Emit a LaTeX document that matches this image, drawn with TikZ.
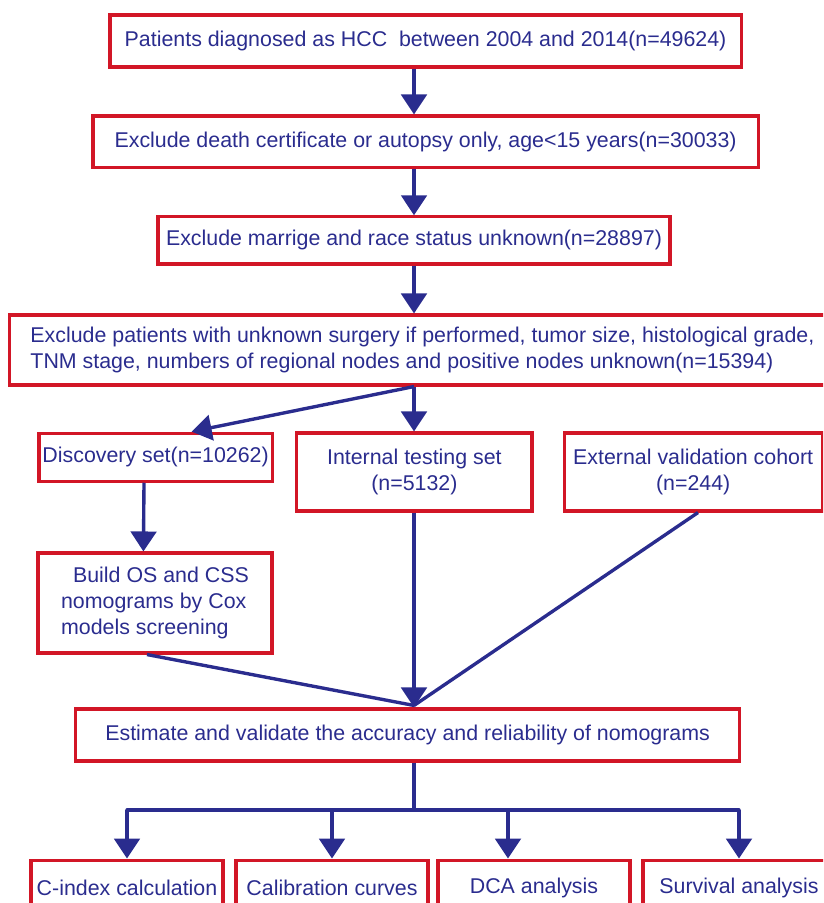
\documentclass[tikz,border=0pt]{standalone}
\usepackage{fontspec}
\setmainfont{Liberation Sans}
\usetikzlibrary{arrows.meta,positioning,calc}
\definecolor{boxred}{RGB}{210,22,38}
\definecolor{navy}{RGB}{42,44,142}

\begin{document}
\begin{tikzpicture}[>={Triangle[length=0.5cm,width=0.64cm]},
 font=\fontsize{15.2}{18.5}\selectfont, text=navy,
 bx/.style={draw=boxred,line width=2.2pt,rectangle,inner sep=0pt},
 ln/.style={draw=navy,line width=2.4pt},
 ar/.style={ln,->}]
\path[use as bounding box,clip] (0,0) rectangle (20.575,-22.575);
\coordinate (trunk) at (10.35,0);
% selection of patients
\node[bx,minimum width=15.78cm,minimum height=1.3cm] (pat) at (10.64,-1.025)
 {Patients diagnosed as HCC \ between 2004 and 2014(n=49624)};
\node[bx,minimum width=16.63cm,minimum height=1.28cm] (dth) at (10.64,-3.54)
 {Exclude death certificate or autopsy only, age<15 years(n=30033)};
\node[bx,minimum width=12.8cm,minimum height=1.18cm] (mar) at (10.35,-6.01)
 {Exclude marrige and race status unknown(n=28897)};
\node[bx,minimum width=20.63cm,minimum height=1.75cm,align=left] (unk) at (10.56,-8.75)
 {Exclude patients with unknown surgery if performed, tumor size, histological grade,\\
 TNM stage, numbers of regional nodes and positive nodes unknown(n=15394)};
\draw[ar] (pat.south -| trunk) -- (dth.north -| trunk);
\draw[ar] (dth.south -| trunk) -- (mar.north -| trunk);
\draw[ar] (mar.south -| trunk) -- (unk.north -| trunk);
% cohorts
\node[bx,minimum width=5.83cm,minimum height=1.2cm] (disc) at (3.89,-11.43)
 {Discovery set(n=10262)};
\node[bx,minimum width=5.88cm,minimum height=1.95cm,align=center] (intl) at (10.36,-11.8)
 {Internal testing set\\(n=5132)};
\node[bx,minimum width=6.45cm,minimum height=1.95cm,align=center] (extv) at (17.33,-11.8)
 {External validation cohort\\(n=244)};
\draw[ar] (unk.south -| trunk) -- ($(disc.north)+(0.9,0)$);
\draw[ar] (unk.south -| trunk) -- (intl.north -| trunk);
% nomograms
\node[bx,minimum width=5.85cm,minimum height=2.5cm,align=left] (nomo) at (3.875,-15.075)
 {\hspace*{0.3cm}Build OS and CSS\\nomograms by Cox\\models screening};
\draw[ar] ($(disc.south)+(-0.29,0)$) -- ($(nomo.north)+(-0.29,0)$);
\node[bx,minimum width=16.6cm,minimum height=1.3cm] (est) at (10.19,-18.375)
 {Estimate and validate the accuracy and reliability of nomograms};
\draw[ar] (intl.south -| trunk) -- (est.north -| trunk);
\draw[ln] ($(nomo.south)+(-0.2,0)$) -- ($(est.north -| trunk)+(0,0.05)$);
\draw[ln] ($(extv.south)+(0.12,0)$) -- ($(est.north -| trunk)+(0,0.05)$);
% analyses
\node[bx,minimum width=4.8cm,minimum height=1.375cm] (cidx) at (3.175,-22.19) {C-index calculation};
\node[bx,minimum width=4.8cm,minimum height=1.375cm] (calib) at (8.3,-22.19) {Calibration curves};
\node[bx,minimum width=4.8cm,minimum height=1.375cm] (dca) at (13.35,-22.19) {DCA analysis};
\node[bx,minimum width=4.8cm,minimum height=1.375cm] (surv) at (18.475,-22.19) {Survival analysis};
\coordinate (split) at (10.35,-20.25);
\coordinate (dcax) at (12.7,0);
\draw[ln] (est.south -| trunk) -- (split);
\draw[ln,line cap=round] (split -| cidx.north) -- (split -| surv.north);
\foreach \n in {cidx,calib,surv} \draw[ar] (split -| \n.north) -- (\n.north);
\draw[ar] (split -| dcax) -- (dca.north -| dcax);
\end{tikzpicture}
\end{document}
